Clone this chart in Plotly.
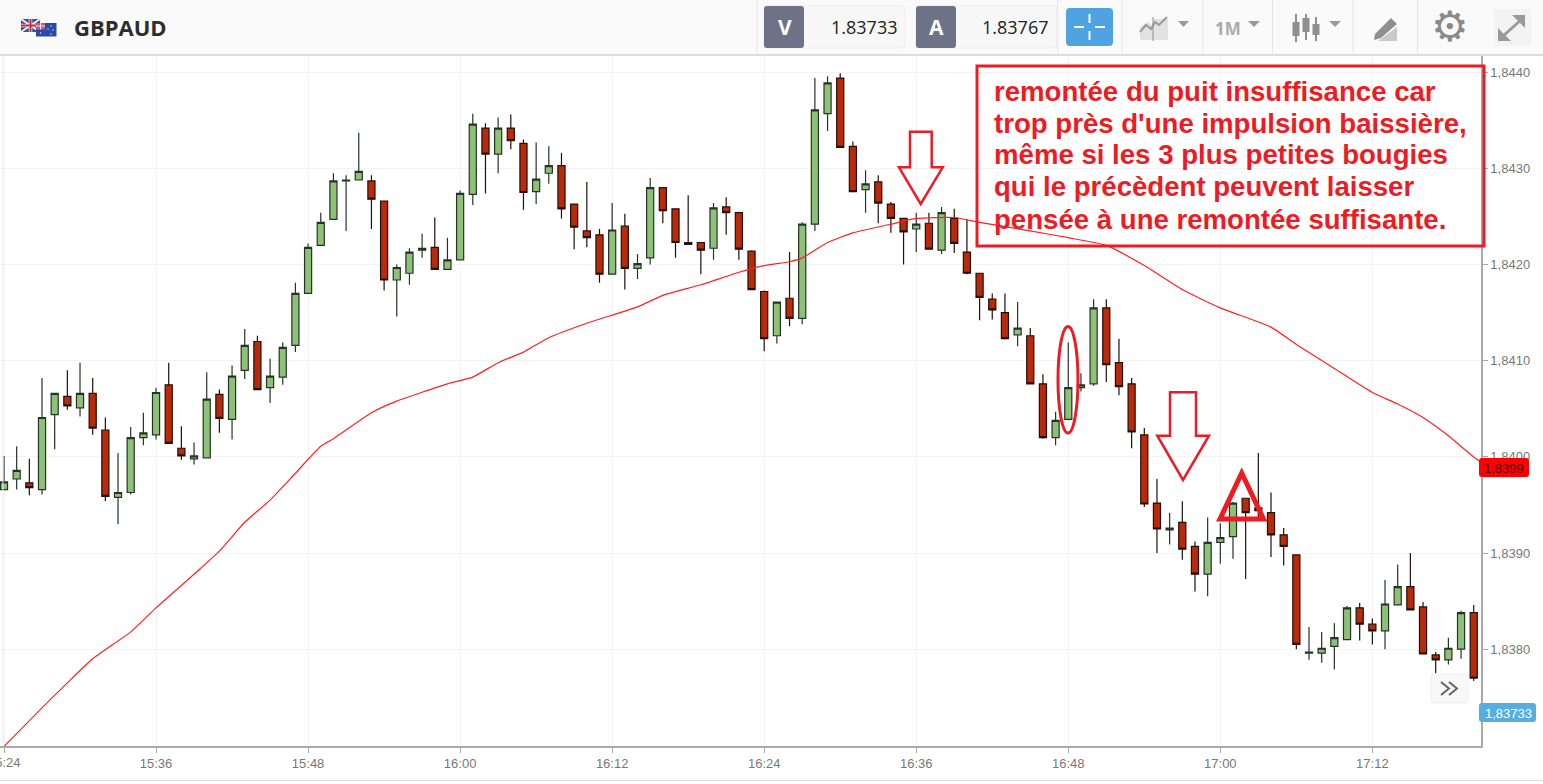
import pandas as pd
import plotly.graph_objects as go

SYMBOL = "GBPAUD"
start_time = "2018-01-08 15:24"

open_ = [1.83966,1.83977,1.83973,1.83966,1.84044,1.84063,1.84051,1.84066,1.84028,1.83958,
1.83963,1.84020,1.84023,1.84075,1.84009,1.83998,1.83999,1.84065,1.84039,1.84090,
1.84120,1.84072,1.84083,1.84116,1.84170,1.84220,1.84247,1.84287,1.84288,1.84287,
1.84266,1.84184,1.84191,1.84215,1.84218,1.84195,1.84205,1.84273,1.84342,1.84315,
1.84342,1.84326,1.84276,1.84295,1.84303,1.84263,1.84235,1.84231,1.84190,1.84240,
1.84196,1.84207,1.84280,1.84258,1.84223,1.84223,1.84217,1.84260,1.84254,1.84214,
1.84172,1.84126,1.84165,1.84144,1.84242,1.84357,1.84394,1.84323,1.84278,1.84286,
1.84263,1.84248,1.84237,1.84243,1.84215,1.84248,1.84213,1.84191,1.84164,1.84150,
1.84127,1.84126,1.84076,1.84020,1.84039,1.84072,1.84076,1.84155,1.84098,1.84076,
1.84023,1.83952,1.83924,1.83932,1.83907,1.83878,1.83911,1.83917,1.83957,1.83947,
1.83942,1.83919,1.83898,1.83796,1.83796,1.83803,1.83810,1.83843,1.83826,1.83819,
1.83846,1.83865,1.83844,1.83794,1.83789,1.83800,1.83838]

high = [1.84001,1.84011,1.83998,1.84082,1.84066,1.84090,1.84098,1.84082,1.84041,1.84004,
1.84031,1.84046,1.84072,1.84098,1.84032,1.84015,1.84088,1.84070,1.84095,1.84133,
1.84126,1.84102,1.84119,1.84181,1.84222,1.84254,1.84295,1.84293,1.84337,1.84293,
1.84266,1.84200,1.84217,1.84232,1.84249,1.84228,1.84277,1.84357,1.84347,1.84353,
1.84356,1.84330,1.84327,1.84323,1.84316,1.84263,1.84286,1.84237,1.84264,1.84253,
1.84211,1.84290,1.84280,1.84258,1.84272,1.84223,1.84264,1.84270,1.84255,1.84215,
1.84173,1.84161,1.84213,1.84244,1.84394,1.84396,1.84399,1.84328,1.84298,1.84293,
1.84265,1.84248,1.84254,1.84254,1.84260,1.84258,1.84247,1.84191,1.84170,1.84170,
1.84161,1.84134,1.84086,1.84047,1.84119,1.84087,1.84164,1.84164,1.84123,1.84082,
1.84030,1.83977,1.83942,1.83954,1.83912,1.83937,1.83931,1.83953,1.83957,1.84004,
1.83963,1.83926,1.83898,1.83823,1.83818,1.83827,1.83845,1.83848,1.83832,1.83872,
1.83888,1.83900,1.83849,1.83797,1.83812,1.83840,1.83846]

low = [1.83966,1.83966,1.83960,1.83961,1.84008,1.84049,1.84042,1.84023,1.83954,1.83930,
1.83961,1.84012,1.84018,1.84014,1.83997,1.83992,1.83999,1.84025,1.84018,1.84081,
1.84070,1.84056,1.84075,1.84109,1.84170,1.84220,1.84247,1.84235,1.84288,1.84237,
1.84173,1.84146,1.84179,1.84207,1.84195,1.84195,1.84205,1.84262,1.84274,1.84295,
1.84320,1.84257,1.84263,1.84284,1.84248,1.84216,1.84218,1.84181,1.84190,1.84174,
1.84185,1.84200,1.84243,1.84207,1.84221,1.84190,1.84205,1.84231,1.84205,1.84174,
1.84110,1.84118,1.84136,1.84138,1.84235,1.84339,1.84322,1.84276,1.84254,1.84243,
1.84233,1.84200,1.84213,1.84216,1.84211,1.84212,1.84190,1.84142,1.84143,1.84122,
1.84115,1.84076,1.84019,1.84012,1.84038,1.84068,1.84074,1.84078,1.84064,1.84009,
1.83948,1.83900,1.83909,1.83893,1.83860,1.83855,1.83889,1.83894,1.83873,1.83934,
1.83896,1.83887,1.83800,1.83789,1.83786,1.83779,1.83810,1.83809,1.83805,1.83800,
1.83846,1.83841,1.83795,1.83775,1.83784,1.83790,1.83767]

close = [1.83974,1.83986,1.83968,1.84041,1.84066,1.84053,1.84066,1.84030,1.83959,1.83963,
1.84020,1.84025,1.84067,1.84014,1.84001,1.84001,1.84060,1.84040,1.84084,1.84116,
1.84070,1.84084,1.84114,1.84170,1.84218,1.84244,1.84287,1.84288,1.84297,1.84268,
1.84184,1.84197,1.84213,1.84217,1.84195,1.84205,1.84274,1.84346,1.84315,1.84342,
1.84329,1.84275,1.84289,1.84303,1.84258,1.84239,1.84228,1.84190,1.84236,1.84196,
1.84201,1.84280,1.84256,1.84223,1.84221,1.84215,1.84259,1.84254,1.84216,1.84174,
1.84123,1.84161,1.84144,1.84242,1.84361,1.84389,1.84322,1.84276,1.84284,1.84264,
1.84248,1.84234,1.84242,1.84216,1.84254,1.84222,1.84191,1.84166,1.84153,1.84123,
1.84134,1.84076,1.84020,1.84038,1.84072,1.84075,1.84155,1.84096,1.84073,1.84026,
1.83951,1.83925,1.83926,1.83904,1.83878,1.83911,1.83916,1.83952,1.83942,1.83944,
1.83919,1.83907,1.83805,1.83797,1.83801,1.83812,1.83843,1.83826,1.83819,1.83847,
1.83865,1.83841,1.83795,1.83789,1.83801,1.83838,1.83770]

ma_minute = [0,3,5,7,10,12,15,17,19,21,23,25,26,29,31,35,37,39,41,43,46,50,52,55,58,60,62,63,65,67,70,72,75,77,81,84,87,90,93,96,100,102,105,108,110,112,114,116,117]
ma_value = [1.83699,1.83739,1.83765,1.83790,1.83818,1.83843,1.83878,1.83902,1.83932,1.83955,1.83983,1.84011,1.84019,1.84046,1.84058,1.84076,1.84083,1.84098,1.84109,1.84124,1.84139,1.84156,1.84168,1.84179,1.84192,1.84199,1.84203,1.84207,1.84223,1.84233,1.84242,1.84248,1.84249,1.84244,1.84235,1.84228,1.84220,1.84199,1.84174,1.84155,1.84135,1.84117,1.84092,1.84067,1.84055,1.84041,1.84022,1.84000,1.83991]

y_ticks = [1.8380,1.8390,1.8400,1.8410,1.8420,1.8430,1.8440]
x_tick_minutes = [0,12,24,36,48,60,72,84,96,108]
x_tick_labels = ["15:24","15:36","15:48","16:00","16:12","16:24","16:36","16:48","17:00","17:12"]
note_lines = ["remontée du puit insuffisance car","trop près d'une impulsion baissière,",
              "même si les 3 plus petites bougies","qui le précèdent peuvent laisser",
              "pensée à une remontée suffisante."]
bid_price, ask_price = "1.83733", "1.83767"
ma_label, last_label = "1,8399", "1,83733"
last_price = 1.83733

W, H = 1543, 784
L, R, T, B = 0, 1481, 56, 746
t0 = pd.Timestamp(start_time)
def tm(m): return t0 + pd.Timedelta(minutes=m)
def px(x): return (x - L) / (R - L)
def py(y): return (B - y) / (B - T)

RED = "#ed1c24"
shapes, annos = [], []

def path_pts(pts, close_it=True):
    s = "M " + " L ".join(f"{px(x):.5f},{py(y):.5f}" for x, y in pts)
    return s + (" Z" if close_it else "")
def poly(pts, fill=None, line=None, w=1, close_it=True):
    shapes.append(dict(type="path", xref="paper", yref="paper", path=path_pts(pts, close_it),
                       fillcolor=fill or "rgba(0,0,0,0)",
                       line=dict(color=line or "rgba(0,0,0,0)", width=w if line else 0), layer="above"))
def rect(x0, y0, x1, y1, fill=None, line=None, w=1):
    shapes.append(dict(type="rect", xref="paper", yref="paper", x0=px(x0), x1=px(x1), y0=py(y0), y1=py(y1),
                       fillcolor=fill or "rgba(0,0,0,0)",
                       line=dict(color=line or "rgba(0,0,0,0)", width=w if line else 0), layer="above"))
def rrect(x0, y0, x1, y1, r, fill, line=None, w=1):
    s = (f"M {px(x0+r):.5f},{py(y0):.5f} L {px(x1-r):.5f},{py(y0):.5f} Q {px(x1):.5f},{py(y0):.5f} {px(x1):.5f},{py(y0+r):.5f} "
         f"L {px(x1):.5f},{py(y1-r):.5f} Q {px(x1):.5f},{py(y1):.5f} {px(x1-r):.5f},{py(y1):.5f} "
         f"L {px(x0+r):.5f},{py(y1):.5f} Q {px(x0):.5f},{py(y1):.5f} {px(x0):.5f},{py(y1-r):.5f} "
         f"L {px(x0):.5f},{py(y0+r):.5f} Q {px(x0):.5f},{py(y0):.5f} {px(x0+r):.5f},{py(y0):.5f} Z")
    shapes.append(dict(type="path", xref="paper", yref="paper", path=s, fillcolor=fill,
                       line=dict(color=line or "rgba(0,0,0,0)", width=w if line else 0), layer="above"))
def seg(x0, y0, x1, y1, color, w=1):
    shapes.append(dict(type="line", xref="paper", yref="paper", x0=px(x0), x1=px(x1), y0=py(y0), y1=py(y1),
                       line=dict(color=color, width=w), layer="above"))
def text(x, y, s, size, color, anchor="left", family="Liberation Sans", bold=False):
    annos.append(dict(xref="paper", yref="paper", x=px(x), y=py(y), text=f"<b>{s}</b>" if bold else s,
                      showarrow=False, xanchor=anchor, yanchor="middle", align=anchor,
                      font=dict(size=size, color=color, family=family), borderpad=0, borderwidth=0))

# toolbar
rect(0, 0, W, 55, fill="#fafafa")
seg(0, 55, W, 55, "#bdbdbd", 1)
for sx in [1057.5, 1122, 1203, 1272.5, 1353, 1417.7]:
    seg(sx, 0, sx, 55, "#e6e6e6", 1)
seg(757, 0, 757, 55, "#e6e6e6", 1)
# flags
rect(21, 19, 40, 32, fill="#2f4f9e")
seg(21, 19, 40, 32, "#f2f2f2", 2); seg(21, 32, 40, 19, "#f2f2f2", 2)
seg(30.5, 19, 30.5, 32, "#e8e8e8", 3.5); seg(21, 25.5, 40, 25.5, "#e8e8e8", 3.5)
seg(30.5, 19, 30.5, 32, "#d02a3a", 2); seg(21, 25.5, 40, 25.5, "#d02a3a", 2)
rect(36, 23, 56.5, 36.5, fill="#2a4aa8")
rect(36, 23, 45, 29.5, fill="#c05a80")
seg(40.5, 23, 40.5, 29.5, "#eeeeee", 1); seg(36, 26, 45, 26, "#eeeeee", 1)
for sx, sy in [(40.5, 33), (51, 26), (48, 29), (53, 30), (51, 34)]:
    rect(sx - .6, sy - .6, sx + .6, sy + .6, fill="#ffffff")
text(73.5, 27.5, SYMBOL, 22, "#2d2d2d", family="Open Sans", bold=True)
# bid / ask
rrect(764, 6, 905, 48, 3, "#f7f7f7", "#ececec")
rrect(916, 6, 1057, 48, 3, "#f7f7f7", "#ececec")
rrect(764, 6, 804, 48, 3, "#6d7286")
rrect(916, 6, 956, 48, 3, "#6d7286")
text(784.5, 27.5, "V", 21, "#ffffff", "center", "Open Sans", True)
text(936.5, 27.5, "A", 21, "#ffffff", "center", "Open Sans", True)
text(897, 27, bid_price, 18, "#222222", "right", "Open Sans")
text(1048, 27, ask_price, 18, "#222222", "right", "Open Sans")
rrect(1066, 8, 1113, 46, 4, "#4fa3e0")
seg(1089.5, 14, 1089.5, 23, "#ffffff", 2); seg(1089.5, 31, 1089.5, 40, "#ffffff", 2)
seg(1074, 27, 1084, 27, "#ffffff", 2); seg(1095, 27, 1105, 27, "#ffffff", 2)
# toolbar icons
poly([(1140, 40), (1140, 27), (1148, 22), (1153, 26), (1153, 19), (1168, 19), (1168, 40)], fill="#e2e2e2")
poly([(1140, 32), (1146, 25), (1151, 29), (1155, 22), (1159, 25), (1167, 17)], line="#9a9a9a", w=2, close_it=False)
seg(1153, 17, 1153, 41, "#8f8f8f", 1)
poly([(1178, 21), (1189, 21), (1183.5, 27)], fill="#9a9a9a")
text(1228, 28, "1M", 17, "#ababab", "center", "Open Sans", True)
poly([(1248, 21), (1260, 21), (1254, 27)], fill="#9a9a9a")
for cx, y0, y1, b0, b1 in [(1296, 14, 42, 22, 36), (1306, 14, 40, 18, 32), (1316, 17, 41, 24, 35)]:
    seg(cx, y0, cx, y1, "#8f8f8f", 2)
    rect(cx - 3.5, b0, cx + 3.5, b1, fill="#8f8f8f")
poly([(1329, 21), (1341, 21), (1335, 27)], fill="#9a9a9a")
poly([(1375, 34), (1391, 18), (1397, 24), (1381, 38), (1374, 40)], fill="#8f8f8f")
poly([(1378, 41), (1397, 27), (1397, 41)], fill="#c9c9c9")
text(1449.5, 27, "⚙", 42, "#8a8a8a", "center", "DejaVu Sans")
rect(1494, 9, 1531, 46, fill="#f3f3f3")
seg(1502, 37, 1522, 19, "#9a9a9a", 3)
poly([(1512, 15), (1525, 15), (1525, 28)], fill="#9a9a9a")
poly([(1498, 28), (1498, 41), (1511, 41)], fill="#9a9a9a")

# drawn notes on the chart
rect(977, 66, 1484, 246, line=RED, w=3)
for i, line in enumerate(note_lines):
    text(994, 91 + 32 * i, line, 27.6, RED, bold=True)
poly([(910,131.7),(931.7,131.7),(931.7,167.3),(942.7,167.3),(920.7,204),(899,167.3),(910,167.3)], line=RED, w=2.5)
poly([(1170,392.3),(1196,392.3),(1196,435.7),(1209,435.7),(1183,480),(1157.3,435.7),(1170,435.7)], line=RED, w=2.5)
poly([(1241.7,473),(1263.5,519),(1220,519)], line=RED, w=5)
shapes.append(dict(type="circle", xref="paper", yref="paper", x0=px(1058), x1=px(1078), y0=py(326.5), y1=py(433),
                   line=dict(color=RED, width=3), layer="above"))

# value tags
rrect(1479, 458, 1529, 477, 3, "#ff0000")
text(1504, 468, ma_label, 13, "#5a0000", "center")
rrect(1479, 703, 1536, 722, 3, "#55aedd")
annos.append(dict(xref="paper", yref="y", x=px(1508), y=last_price, text=last_label, showarrow=False,
                  xanchor="center", yanchor="middle", font=dict(size=13, color="#ffffff", family="Liberation Sans")))
# scroll button
rrect(1431, 674, 1468, 703, 3, "#f8f8f8", "#eeeeee")
poly([(1441, 682), (1449, 688.5), (1441, 695)], line="#666666", w=2, close_it=False)
poly([(1449, 682), (1457, 688.5), (1449, 695)], line="#666666", w=2, close_it=False)
seg(0, 780.5, W, 780.5, "#dddddd", 1)
seg(3, 56, 3, 746, "#ececec", 1)
# the 15:24 label runs off the left edge of the page
text(4, 762, x_tick_labels[0], 13, "#777777", "center")

times = [tm(i) for i in range(len(close))]
fig = go.Figure()
fig.add_trace(go.Candlestick(x=times, open=open_, high=high, low=low, close=close, whiskerwidth=0,
                             increasing=dict(line=dict(color="#26332a", width=1.2), fillcolor="#8cc176"),
                             decreasing=dict(line=dict(color="#221008", width=1.2), fillcolor="#b92a0a"),
                             showlegend=False))
fig.add_trace(go.Scatter(x=[tm(m) for m in ma_minute], y=ma_value, mode="lines",
                         line=dict(color="#ff2020", width=1.2, shape="spline", smoothing=0.5), hoverinfo="skip", showlegend=False))

fig.update_layout(
    width=W, height=H, autosize=False, margin=dict(l=L, r=W - R, t=T, b=H - B),
    paper_bgcolor="#ffffff", plot_bgcolor="#ffffff", separators=",.", showlegend=False,
    boxgap=0.2, shapes=shapes, annotations=annos, hovermode=False,
    font=dict(family="Liberation Sans", color="#777777", size=13),
    xaxis=dict(type="date", range=[tm(-4 / 12.67), tm((R - 4) / 12.67)], rangeslider=dict(visible=False),
               tickmode="array", tickvals=[tm(m) for m in x_tick_minutes], ticktext=x_tick_labels,
               showgrid=True, gridcolor="#f3f3f3", gridwidth=1, ticks="outside", ticklen=5, tickcolor="#aaaaaa",
               showline=True, linecolor="#aaaaaa", linewidth=1.5, zeroline=False, tickangle=0),
    yaxis=dict(side="right", range=[1.8440 - (B - 72.3) / 96150, 1.8440 + (72.3 - T) / 96150],
               tickmode="array", tickvals=y_ticks, tickformat=".4f",
               showgrid=True, gridcolor="#f3f3f3", gridwidth=1, ticks="outside", ticklen=5, tickcolor="#aaaaaa",
               showline=True, linecolor="#aaaaaa", linewidth=1.5, zeroline=False),
)
fig.write_html("out.html", config={"displayModeBar": False}, post_script="document.body.style.margin='0';")
